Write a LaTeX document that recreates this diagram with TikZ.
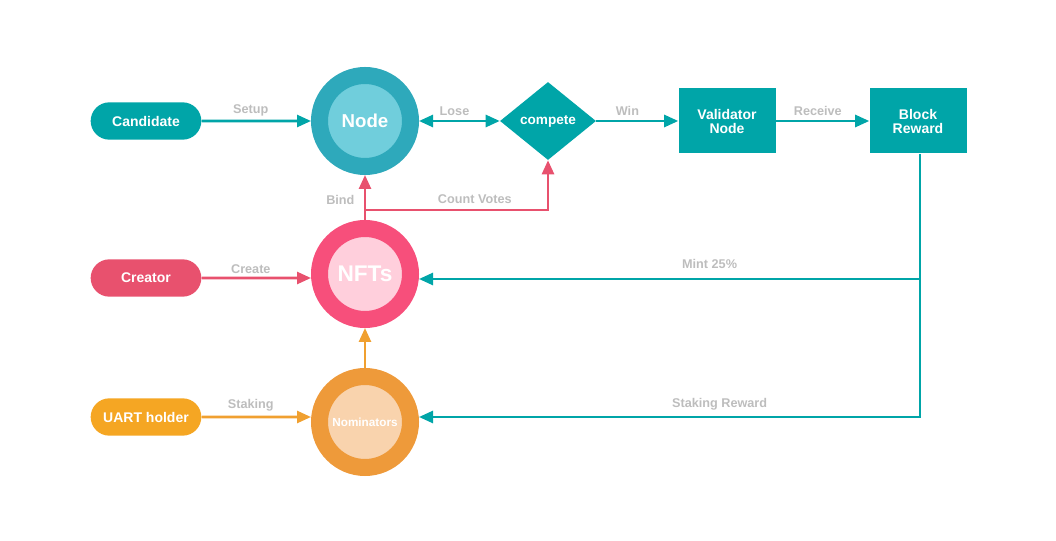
\documentclass[tikz,border=0pt]{standalone}
\usepackage{fontspec}
\setmainfont{Liberation Sans}
\usetikzlibrary{arrows.meta,shapes.geometric,shapes.misc}

\definecolor{tealmain}{HTML}{00A5A8}
\definecolor{nodeouter}{HTML}{2EA9BB}
\definecolor{nodeinner}{HTML}{70CEDC}
\definecolor{pinkmain}{HTML}{E8516E}
\definecolor{nftouter}{HTML}{F74F7B}
\definecolor{nftinner}{HTML}{FFCFDC}
\definecolor{orangemain}{HTML}{F5A623}
\definecolor{orangelink}{HTML}{F0A030}
\definecolor{nomouter}{HTML}{EE9A3A}
\definecolor{nominner}{HTML}{F9D3AD}
\definecolor{labelgrey}{HTML}{BDBDBD}

\tikzset{
  pill/.style={rounded rectangle, minimum width=83pt, minimum height=28pt, inner sep=0pt,
    text=white, font=\bfseries\fontsize{10.5}{12}\selectfont},
  ring/.style={circle, minimum size=68.25pt, inner sep=0pt, line width=12.75pt,
    text=white, font=\bfseries},
  box/.style={rectangle, fill=tealmain, minimum width=72.75pt, minimum height=48.75pt,
    inner sep=0pt, align=center, text=white, font=\bfseries\fontsize{10.5}{10.5}\selectfont},
  link/.style={line width=1.9pt, -{Triangle[length=10.5pt,width=9pt]}},
  lbl/.style={text=labelgrey, font=\bfseries\fontsize{9.5}{11}\selectfont, inner sep=1pt}
}

\begin{document}
\begin{tikzpicture}[x=0.75pt,y=-0.75pt]
	\useasboundingbox (0,0) rectangle (1056,541);

	% Nodes
	\node[pill, fill=tealmain] (cand) at (146,121) {Candidate};
	\node[pill, fill=pinkmain] (creator) at (146,278) {Creator};
	\node[pill, fill=orangemain] (holder) at (146,417) {UART holder};
	\node[ring, draw=nodeouter, fill=nodeinner, font=\bfseries\fontsize{14}{16}\selectfont] (node) at (365,121) {Node};
	\node[ring, draw=nftouter, fill=nftinner, font=\bfseries\fontsize{17}{19}\selectfont] (nfts) at (365,274) {NFTs};
	\node[ring, draw=nomouter, fill=nominner, font=\bfseries\fontsize{8.8}{10}\selectfont] (nom) at (365,422) {Nominators};
	\node[diamond, fill=tealmain, minimum width=72pt, minimum height=58.5pt, inner sep=0pt,
	  text=white, font=\bfseries\fontsize{10.2}{12}\selectfont] (compete) at (548,121) {compete};
	\node[box] (validator) at (727,121) {Validator\\Node};
	\node[box] (reward) at (918,121) {Block\\Reward};
	\coordinate (vote) at (365,210);
	\coordinate (turn) at (920,279);

	% Links
	\draw[link, tealmain] (cand) -- (node) node[lbl, pos=0.45, above=2pt] {Setup};
	\draw[link, tealmain, {Triangle[length=10.5pt,width=9pt]}-{Triangle[length=10.5pt,width=9pt]}]
	  (node) -- (compete) node[lbl, pos=0.44, above=2pt] {Lose};
	\draw[link, tealmain] (compete) -- (validator) node[lbl, pos=0.38, above=2pt] {Win};
	\draw[link, tealmain] (validator) -- (reward) node[lbl, pos=0.45, above=2pt] {Receive};
	\draw[line width=1.9pt, tealmain] (reward.south -| turn) -- (turn);
	\draw[link, tealmain] (turn) -- (turn -| nfts.east) node[lbl, pos=0.42, above=5.5pt] {Mint 25\%};
	\draw[link, tealmain] (turn) |- (holder -| nom.east) node[lbl, pos=0.70, above=3.5pt] {Staking Reward};
	\draw[link, pinkmain] (creator) -- (creator -| nfts.west) node[lbl, pos=0.45, above=1.5pt] {Create};
	\draw[link, orangelink] (holder) -- (holder -| nom.west) node[lbl, pos=0.45, above=2.5pt] {Staking};
	\draw[link, orangelink] (nom) -- (nfts);
	\draw[link, pinkmain] (nfts) -- (node) node[lbl, pos=0.45, left=6pt] {Bind};
	\draw[link, pinkmain] (vote) -| (compete.south) node[lbl, pos=0.3, above=2.5pt] {Count Votes};
\end{tikzpicture}
\end{document}
